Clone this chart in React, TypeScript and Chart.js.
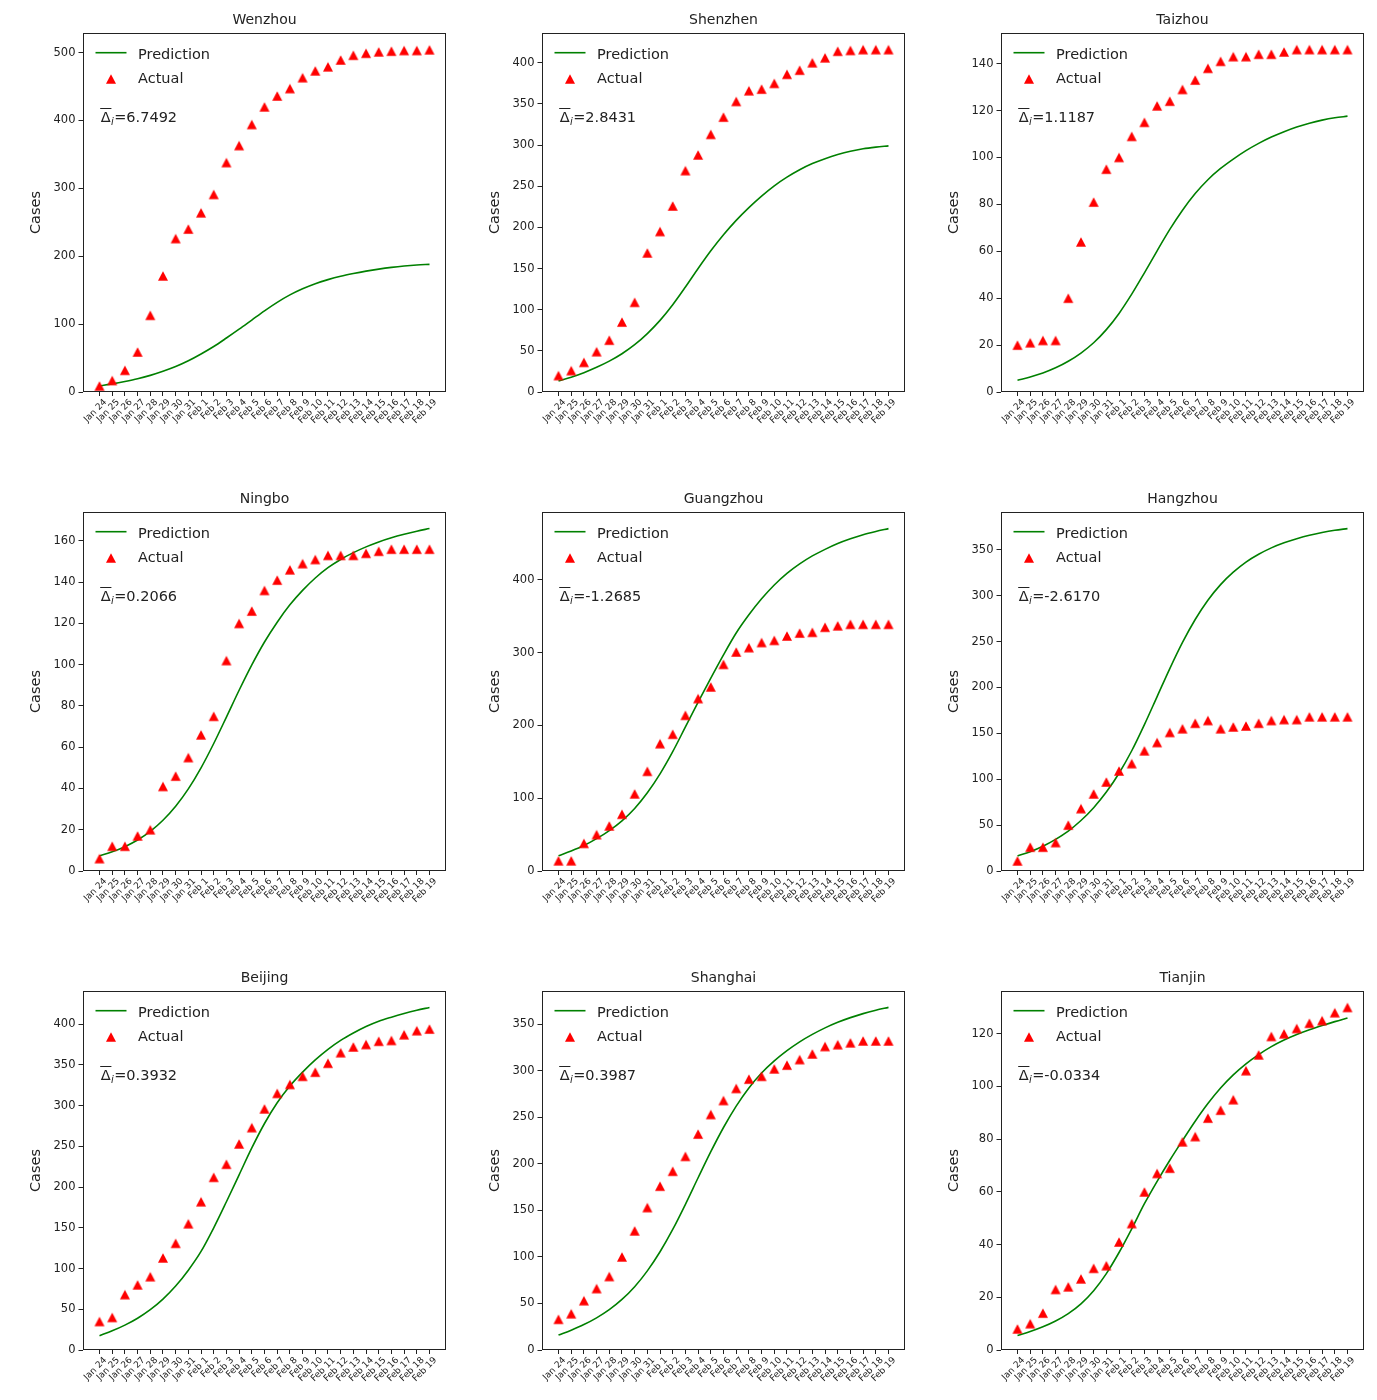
import React, { useEffect, useRef } from 'react';
import { Chart, registerables } from 'chart.js';

Chart.register(...registerables);

// ---------------- data ----------------
const DATES = [
  'Jan 24', 'Jan 25', 'Jan 26', 'Jan 27', 'Jan 28', 'Jan 29', 'Jan 30', 'Jan 31',
  'Feb 1', 'Feb 2', 'Feb 3', 'Feb 4', 'Feb 5', 'Feb 6', 'Feb 7', 'Feb 8', 'Feb 9',
  'Feb 10', 'Feb 11', 'Feb 12', 'Feb 13', 'Feb 14', 'Feb 15', 'Feb 16', 'Feb 17',
  'Feb 18', 'Feb 19',
];

const CITIES = ['Wenzhou', 'Shenzhen', 'Taizhou', 'Ningbo', 'Guangzhou', 'Hangzhou', 'Beijing', 'Shanghai', 'Tianjin'];

const DELTAS = ['6.7492', '2.8431', '1.1187', '0.2066', '-1.2685', '-2.6170', '0.3932', '0.3987', '-0.0334'];

const WENZHOU_ACTUAL = [9, 17, 32, 59, 113, 171, 226, 240, 264, 291, 338, 363, 394, 420, 436, 447, 463, 473, 479, 489, 496, 499, 501, 502, 503, 503, 504];
const WENZHOU_PRED = [9, 12, 15.5, 19.5, 24.5, 30.5, 37.5, 46, 56, 67, 79.5, 92.5, 106, 119.5, 132, 143, 152, 159.5, 165.5, 170.5, 174.5, 178, 181, 183.5, 185.5, 187, 188];

const SHENZHEN_ACTUAL = [20, 26, 36, 49, 63, 85, 109, 169, 195, 226, 269, 288, 313, 334, 353, 366, 368, 375, 386, 391, 400, 406, 414, 415, 416, 416, 416];
const SHENZHEN_PRED = [13.4, 18, 23.5, 30, 37.5, 46.5, 57.5, 71, 87, 106, 127.5, 150, 171.5, 191, 208.5, 224, 238, 250.5, 261, 270, 277.5, 283.5, 288.5, 292.5, 295.5, 297.5, 299];

const TAIZHOU_ACTUAL = [20, 21, 22, 22, 40, 64, 81, 95, 100, 109, 115, 122, 124, 129, 133, 138, 141, 143, 143, 144, 144, 145, 146, 146, 146, 146, 146];
const TAIZHOU_PRED = [5, 6.4, 8.1, 10.3, 13.1, 16.6, 21, 26.6, 33.5, 41.7, 50.8, 60.2, 69.3, 77.5, 84.6, 90.5, 95.3, 99.3, 102.9, 106, 108.7, 111, 113, 114.6, 115.9, 116.9, 117.6];

const NINGBO_ACTUAL = [6, 12, 12, 17, 20, 41, 46, 55, 66, 75, 102, 120, 126, 136, 141, 146, 149, 151, 153, 153, 153, 154, 155, 156, 156, 156, 156];
const NINGBO_PRED = [7.3, 9.3, 11.8, 15, 19.2, 24.6, 31.4, 39.8, 50, 61.8, 74.6, 87.6, 99.9, 111, 120.6, 129, 136, 142, 147, 151, 154.3, 157.1, 159.5, 161.5, 163.2, 164.7, 166];

const GUANGZHOU_ACTUAL = [14, 14, 38, 50, 62, 78, 106, 137, 175, 188, 214, 237, 253, 284, 301, 307, 314, 317, 323, 327, 328, 335, 337, 339, 339, 339, 339];
const GUANGZHOU_PRED = [21, 27.5, 35, 44.5, 55.5, 69, 86, 107.5, 133.5, 164, 198, 232, 265, 297, 327, 352, 374, 393, 409, 422, 433, 442, 450, 456.5, 462, 466.5, 470.5];

const HANGZHOU_ACTUAL = [11, 26, 26, 31, 50, 68, 84, 97, 109, 117, 131, 140, 151, 155, 161, 164, 155, 157, 158, 161, 164, 165, 165, 168, 168, 168, 168];
const HANGZHOU_PRED = [16.4, 21, 27, 34.5, 43.5, 55, 69, 86, 106.5, 131, 159.5, 190, 220.5, 249, 274, 295, 312, 325.5, 336.5, 345, 352, 357.5, 362, 365.8, 368.8, 371.2, 373];

const BEIJING_ACTUAL = [35, 40, 68, 80, 90, 113, 131, 155, 182, 212, 228, 253, 273, 296, 315, 326, 336, 341, 352, 365, 372, 375, 379, 380, 387, 392, 394];
const BEIJING_PRED = [17.6, 23.5, 30.5, 39, 49.5, 62.5, 78.5, 98, 121, 150, 182, 215, 248, 278, 303.5, 324, 341, 356, 369, 380, 389, 397, 403.5, 408.5, 413, 417, 420.5];

const SHANGHAI_ACTUAL = [33, 39, 53, 66, 79, 100, 128, 153, 176, 192, 208, 232, 253, 268, 281, 291, 294, 302, 306, 312, 318, 326, 328, 330, 332, 332, 332];
const SHANGHAI_PRED = [16, 21.3, 27.3, 34.5, 43.3, 54.3, 68, 85, 105.5, 129.5, 156.5, 185, 213, 239, 262, 281.5, 297.5, 310.5, 321.5, 331, 339, 346, 352, 357, 361.3, 364.9, 368];

const TIANJIN_ACTUAL = [8, 10, 14, 23, 24, 27, 31, 32, 41, 48, 60, 67, 69, 79, 81, 88, 91, 95, 106, 112, 119, 120, 122, 124, 125, 128, 130];
const TIANJIN_PRED = [5.5, 7, 8.8, 11, 13.8, 17.5, 22.5, 29, 37, 46, 55.5, 64, 72, 79.5, 86.8, 93.5, 99.4, 104.4, 108.6, 112.1, 115.1, 117.6, 119.7, 121.5, 123.1, 124.6, 126];

const ACTUALS = [WENZHOU_ACTUAL, SHENZHEN_ACTUAL, TAIZHOU_ACTUAL, NINGBO_ACTUAL, GUANGZHOU_ACTUAL, HANGZHOU_ACTUAL, BEIJING_ACTUAL, SHANGHAI_ACTUAL, TIANJIN_ACTUAL];
const PREDS = [WENZHOU_PRED, SHENZHEN_PRED, TAIZHOU_PRED, NINGBO_PRED, GUANGZHOU_PRED, HANGZHOU_PRED, BEIJING_PRED, SHANGHAI_PRED, TIANJIN_PRED];

const Y_TICKS = [
  [0, 100, 200, 300, 400, 500],
  [0, 50, 100, 150, 200, 250, 300, 350, 400],
  [0, 20, 40, 60, 80, 100, 120, 140],
  [0, 20, 40, 60, 80, 100, 120, 140, 160],
  [0, 100, 200, 300, 400],
  [0, 50, 100, 150, 200, 250, 300, 350],
  [0, 50, 100, 150, 200, 250, 300, 350, 400],
  [0, 50, 100, 150, 200, 250, 300, 350],
  [0, 20, 40, 60, 80, 100, 120],
];

// ---------------- style / layout ----------------
const FAMILY = '"DejaVu Sans", "Liberation Sans", sans-serif';
const INK = '#222222';
const GREEN = '#008000';
const RED = '#ff0000';

const PLOT_W = 363;
const PLOT_H = 359;
const AXIS_W = 60;
const TITLE_H = 33;
const XAXIS_H = 52;
const RIGHT_PAD = 20;
const CANVAS_W = AXIS_W + PLOT_W + RIGHT_PAD;
const CANVAS_H = TITLE_H + PLOT_H + XAXIS_H;
const COL_LEFT = [83, 542, 1001];
const ROW_TOP = [33, 512, 991];

Chart.defaults.font.family = FAMILY;

let TRI: HTMLCanvasElement | null = null;
function triangle(): HTMLCanvasElement {
  if (TRI) return TRI;
  const c = document.createElement('canvas');
  c.width = 12;
  c.height = 12;
  const g = c.getContext('2d')!;
  g.fillStyle = RED;
  g.beginPath();
  g.moveTo(6, 1.25);
  g.lineTo(11, 10.75);
  g.lineTo(1, 10.75);
  g.closePath();
  g.fill();
  TRI = c;
  return c;
}

const overlayPlugin = {
  id: 'overlay',
  afterDraw(chart: any, _args: any, opts: any) {
    const { ctx, chartArea: a } = chart;
    const L = Math.round(a.left);
    const T = Math.round(a.top);
    const R = Math.round(a.right);
    const B = Math.round(a.bottom);
    ctx.save();
    // axes frame (all four spines)
    ctx.strokeStyle = INK;
    ctx.lineWidth = 1;
    ctx.strokeRect(L + 0.5, T + 0.5, R - L - 1, B - T - 1);

    // legend
    ctx.strokeStyle = GREEN;
    ctx.lineWidth = 1.6;
    ctx.beginPath();
    ctx.moveTo(L + 12.5, T + 19.7);
    ctx.lineTo(L + 43.5, T + 19.7);
    ctx.stroke();
    ctx.drawImage(triangle(), L + 28 - 6, T + 46 - 6);
    ctx.fillStyle = INK;
    ctx.textAlign = 'left';
    ctx.textBaseline = 'alphabetic';
    ctx.font = `14.5px ${FAMILY}`;
    ctx.fillText('Prediction', L + 55, T + 25.7);
    ctx.fillText('Actual', L + 55, T + 49.7);

    // mean deviation annotation
    const x0 = L + 17.7;
    const base = T + 89.3;
    ctx.fillText('Δ', x0, base);
    const dw = ctx.measureText('Δ').width;
    ctx.strokeStyle = INK;
    ctx.lineWidth = 1;
    ctx.beginPath();
    ctx.moveTo(x0 - 0.5, base - 13.8);
    ctx.lineTo(x0 + dw + 0.8, base - 13.8);
    ctx.stroke();
    ctx.font = `italic 10px ${FAMILY}`;
    ctx.fillText('i', x0 + dw + 0.3, base + 3);
    const iw = ctx.measureText('i').width;
    ctx.font = `14.5px ${FAMILY}`;
    ctx.fillText('=' + opts.delta, x0 + dw + iw + 0.8, base);
    ctx.restore();
  },
};

function Panel({ idx }: { idx: number }) {
  const ref = useRef<HTMLCanvasElement>(null);
  const left = COL_LEFT[idx % 3] - AXIS_W;
  const top = ROW_TOP[Math.floor(idx / 3)] - TITLE_H;

  useEffect(() => {
    const actual = ACTUALS[idx];
    const pred = PREDS[idx];
    const all = actual.concat(pred);
    const dMax = Math.max(...all);
    const dMin = Math.min(...all);
    const yMax = dMax + 0.05 * (dMax - dMin);
    const yTicks = Y_TICKS[idx];

    const chart = new Chart(ref.current!, {
      type: 'line',
      data: {
        datasets: [
          {
            label: 'Prediction',
            data: pred.map((y, i) => ({ x: i, y })),
            borderColor: GREEN,
            borderWidth: 1.6,
            pointRadius: 0,
            fill: false,
            cubicInterpolationMode: 'monotone',
            order: 2,
          },
          {
            label: 'Actual',
            data: actual.map((y, i) => ({ x: i, y })),
            showLine: false,
            pointStyle: triangle(),
            pointRadius: 5,
            backgroundColor: RED,
            borderColor: RED,
            order: 1,
          },
        ],
      },
      options: {
        responsive: false,
        animation: false,
        events: [],
        layout: { padding: { left: 0, right: RIGHT_PAD, top: 0, bottom: 0 } },
        plugins: {
          legend: { display: false },
          tooltip: { enabled: false },
          title: {
            display: true,
            text: CITIES[idx],
            fullSize: false,
            color: INK,
            font: { family: FAMILY, size: 14, weight: 'normal', lineHeight: 1.2 },
            padding: { top: 11.6, bottom: 4.6 },
          },
          overlay: { delta: DELTAS[idx] },
        } as any,
        scales: {
          x: {
            type: 'linear',
            min: -1.3,
            max: 27.3,
            afterBuildTicks: (s: any) => {
              s.ticks = DATES.map((_, i) => ({ value: i }));
            },
            afterFit: (s: any) => {
              s.height = XAXIS_H;
            },
            ticks: {
              autoSkip: false,
              minRotation: 45,
              maxRotation: 45,
              labelOffset: 6,
              padding: 1,
              color: INK,
              font: { family: FAMILY, size: 9 },
              callback: (v: any) => DATES[v as number] ?? '',
            },
            grid: { display: true, drawOnChartArea: false, drawTicks: true, tickLength: 4, color: INK, lineWidth: 1 },
            border: { display: false },
          },
          y: {
            type: 'linear',
            min: 0,
            max: yMax,
            afterBuildTicks: (s: any) => {
              s.ticks = yTicks.map((v) => ({ value: v }));
            },
            afterFit: (s: any) => {
              s.width = AXIS_W;
            },
            ticks: {
              color: INK,
              padding: 3,
              font: { family: FAMILY, size: 11.5 },
              callback: (v: any) => String(v),
            },
            grid: { display: true, drawOnChartArea: false, drawTicks: true, tickLength: 4.5, color: INK, lineWidth: 1 },
            border: { display: false },
            title: {
              display: true,
              text: 'Cases',
              color: INK,
              font: { family: FAMILY, size: 14.5, lineHeight: 1.2 },
              padding: { top: 4.8, bottom: 0 },
            },
          },
        },
      } as any,
      plugins: [overlayPlugin],
    });
    return () => chart.destroy();
  }, [idx]);

  return (
    <canvas
      ref={ref}
      width={CANVAS_W}
      height={CANVAS_H}
      style={{ position: 'absolute', left, top, width: CANVAS_W, height: CANVAS_H }}
    />
  );
}

export default function App() {
  return (
    <div style={{ position: 'absolute', left: 0, top: 0, width: 1377, height: 1400, background: '#ffffff' }}>
      {CITIES.map((_, i) => (
        <Panel key={i} idx={i} />
      ))}
    </div>
  );
}
